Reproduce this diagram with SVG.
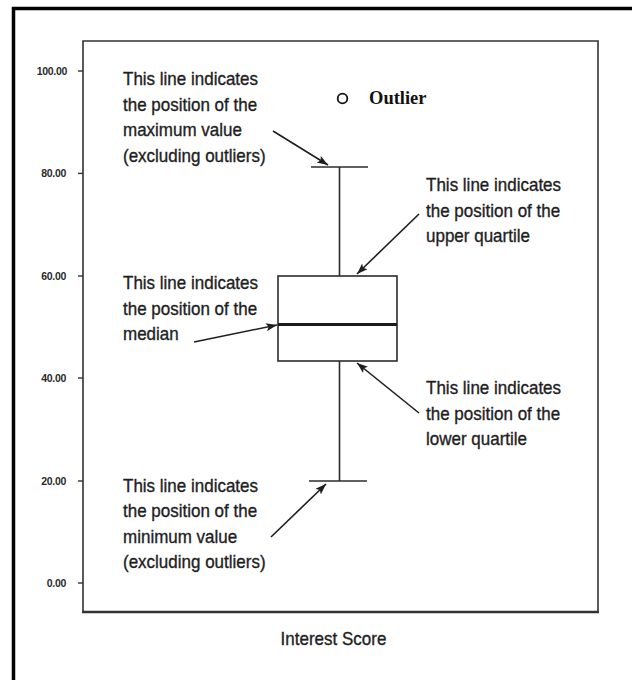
<svg xmlns="http://www.w3.org/2000/svg" width="632" height="680" viewBox="0 0 632 680">
  <style>
    .note { font-family: "Liberation Sans", Arial, sans-serif; font-size: 18px; fill: #1e1e1e; stroke: #1e1e1e; stroke-width: 0.35px; }
    .tick-label { font-family: "Liberation Sans", Arial, sans-serif; font-size: 10.5px; font-weight: bold; fill: #2a2a2a; text-anchor: end; letter-spacing: -0.3px; }
    .axis { fill: none; stroke: #333; stroke-width: 1.6; }
    .tick { stroke: #333; stroke-width: 1.4; }
    .plot { fill: none; stroke: #2b2b2b; stroke-width: 1.6; }
    .pointer { stroke: #1e1e1e; stroke-width: 1.6; fill: none; marker-end: url(#head); }
  </style>
  <defs>
    <marker id="head" markerUnits="userSpaceOnUse" markerWidth="12" markerHeight="9" refX="11" refY="4" orient="auto">
      <path d="M0,0 L11,4 L0,8 L2.5,4 Z" fill="#1e1e1e"/>
    </marker>
  </defs>

  <rect width="632" height="680" fill="#ffffff"/>

  <!-- page frame (top and left edges) -->
  <g id="frame">
    <line x1="12" y1="8.5" x2="632" y2="8.5" stroke="#000" stroke-width="3.5"/>
    <line x1="13.5" y1="7" x2="13.5" y2="680" stroke="#000" stroke-width="3.5"/>
  </g>

  <!-- plot area and value axis -->
  <g id="plot-area">
    <path class="axis" d="M83,612 L83,41 L598,41 L598,612"/>
    <line x1="82" y1="612" x2="599" y2="612" stroke="#333" stroke-width="2.6"/>
  </g>

  <g id="y-axis">
    <line class="tick" x1="78" y1="71" x2="83" y2="71"/>
    <line class="tick" x1="78" y1="173.4" x2="83" y2="173.4"/>
    <line class="tick" x1="78" y1="276" x2="83" y2="276"/>
    <line class="tick" x1="78" y1="378" x2="83" y2="378"/>
    <line class="tick" x1="78" y1="481" x2="83" y2="481"/>
    <line class="tick" x1="78" y1="583" x2="83" y2="583"/>
    <text class="tick-label" x="67" y="75">100.00</text>
    <text class="tick-label" x="66" y="177">80.00</text>
    <text class="tick-label" x="66" y="280">60.00</text>
    <text class="tick-label" x="66" y="382">40.00</text>
    <text class="tick-label" x="66" y="485">20.00</text>
    <text class="tick-label" x="66" y="587">0.00</text>
  </g>

  <!-- condensed lettering: glyphs narrowed to 94.4% width, x positions divided accordingly -->
  <g id="x-axis-title" transform="scale(0.944,1)">
    <text class="note" x="353.3" y="645" text-anchor="middle">Interest Score</text>
  </g>

  <!-- the box plot itself -->
  <g id="boxplot">
    <line class="plot" x1="339.5" y1="167" x2="339.5" y2="276"/>
    <line class="plot" x1="339.5" y1="361" x2="339.5" y2="481"/>
    <line class="plot" x1="311" y1="167" x2="368" y2="167"/>
    <line class="plot" x1="309" y1="481" x2="367" y2="481"/>
    <rect class="plot" x="278" y="276" width="119" height="85"/>
    <line x1="278" y1="324.5" x2="397" y2="324.5" stroke="#1a1a1a" stroke-width="3"/>
  </g>

  <g id="outlier">
    <circle cx="342.5" cy="98.5" r="4.8" fill="none" stroke="#111" stroke-width="1.8"/>
    <text x="369" y="104" font-family="'Liberation Serif', 'Times New Roman', serif" font-size="18.5" font-weight="bold" fill="#111">Outlier</text>
  </g>

  <!-- callout texts -->
  <g id="note-maximum" class="note" transform="scale(0.944,1)">
    <text x="130.3" y="85">This line indicates</text>
    <text x="130.3" y="111">the position of the</text>
    <text x="130.3" y="136">maximum value</text>
    <text x="130.3" y="162">(excluding outliers)</text>
  </g>

  <g id="note-upper-quartile" class="note" transform="scale(0.944,1)">
    <text x="451.3" y="191">This line indicates</text>
    <text x="451.3" y="217">the position of the</text>
    <text x="451.3" y="242">upper quartile</text>
  </g>

  <g id="note-median" class="note" transform="scale(0.944,1)">
    <text x="130.3" y="289">This line indicates</text>
    <text x="130.3" y="315">the position of the</text>
    <text x="130.3" y="340">median</text>
  </g>

  <g id="note-lower-quartile" class="note" transform="scale(0.944,1)">
    <text x="451.3" y="394">This line indicates</text>
    <text x="451.3" y="420">the position of the</text>
    <text x="451.3" y="445">lower quartile</text>
  </g>

  <g id="note-minimum" class="note" transform="scale(0.944,1)">
    <text x="130.3" y="492">This line indicates</text>
    <text x="130.3" y="517">the position of the</text>
    <text x="130.3" y="543">minimum value</text>
    <text x="130.3" y="568">(excluding outliers)</text>
  </g>

  <!-- pointers from each note to its line -->
  <g id="connectors">
    <line class="pointer" x1="273" y1="131" x2="328" y2="165"/>
    <line class="pointer" x1="419" y1="214" x2="357" y2="274"/>
    <line class="pointer" x1="194" y1="342" x2="277" y2="325"/>
    <line class="pointer" x1="419" y1="413" x2="357" y2="363"/>
    <line class="pointer" x1="271" y1="537" x2="326" y2="484"/>
  </g>
</svg>
